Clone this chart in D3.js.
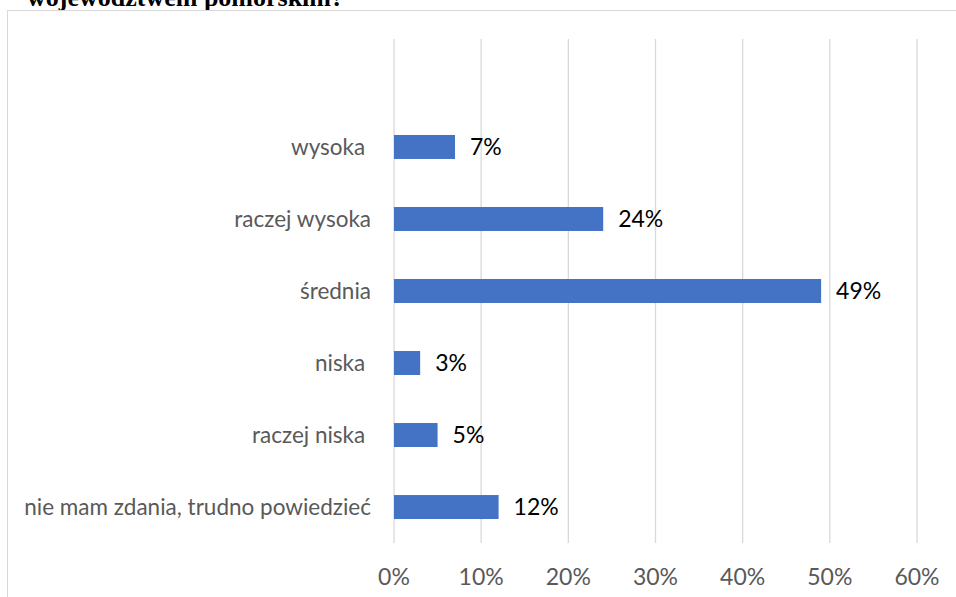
<!DOCTYPE html>
<html><head><meta charset="utf-8">
<script src="https://cdn.jsdelivr.net/npm/d3@7"></script>
<style>body{margin:0;background:#fff;} svg{display:block;}</style>
</head><body>
<svg id="c" width="956" height="597"></svg>
<script>
const categories = ["", "wysoka ", "raczej wysoka", "średnia", "niska ", "raczej niska ", "nie mam zdania, trudno powiedzieć"];
const values = [null, 7, 24, 49, 3, 5, 12];
const ticks = [0, 0.1, 0.2, 0.3, 0.4, 0.5, 0.6];
const titleText = "województwem pomorskim?";

const svg = d3.select("#c");
const font = "Lato, 'Open Sans', sans-serif";

svg.append("text").attr("x", 27).attr("y", 5.5)
  .attr("font-family", "'Liberation Serif', serif").attr("font-weight", "bold")
  .attr("font-size", 26).attr("fill", "#000").text(titleText);

svg.append("rect").attr("x", 7.5).attr("y", 10.5).attr("width", 960).attr("height", 600)
  .attr("fill", "none").attr("stroke", "#d9d9d9");

const x = d3.scaleLinear().domain([0, 0.6]).range([394, 917]);
const y = d3.scaleBand().domain(categories.map((d,i)=>i)).range([39, 543]).paddingInner(0.667).paddingOuter(0.333);

svg.append("g").selectAll("line").data(ticks).join("line")
  .attr("x1", d => x(d)).attr("x2", d => x(d)).attr("y1", 39).attr("y2", 543)
  .attr("stroke", "#d9d9d9").attr("stroke-width", 1.3);

const idx = categories.map((d,i)=>i).filter(i => values[i] !== null);

svg.append("g").selectAll("rect").data(idx).join("rect")
  .attr("x", x(0)).attr("y", i => y(i))
  .attr("width", i => x(values[i]/100) - x(0)).attr("height", y.bandwidth())
  .attr("fill", "#4472c4");

svg.append("g").selectAll("text").data(idx).join("text")
  .attr("x", i => x(values[i]/100) + 15).attr("y", i => y(i) + y.bandwidth()/2)
  .attr("dy", "0.35em").attr("font-family", font).attr("font-size", 23)
  .attr("fill", "#000").text(i => values[i] + "%");

svg.append("g").selectAll("text").data(idx).join("text")
  .attr("x", 371).attr("y", i => y(i) + y.bandwidth()/2)
  .attr("dy", "0.35em").attr("text-anchor", "end").style("white-space", "pre")
  .attr("font-family", font).attr("font-size", 22.5).attr("fill", "#595959")
  .text(i => categories[i]);

svg.append("g").selectAll("text").data(ticks).join("text")
  .attr("x", d => x(d)).attr("y", 577).attr("dy", "0.35em").attr("text-anchor", "middle")
  .attr("font-family", font).attr("font-size", 23).attr("fill", "#595959")
  .text(d => d3.format(".0%")(d));
</script>
</body></html>
